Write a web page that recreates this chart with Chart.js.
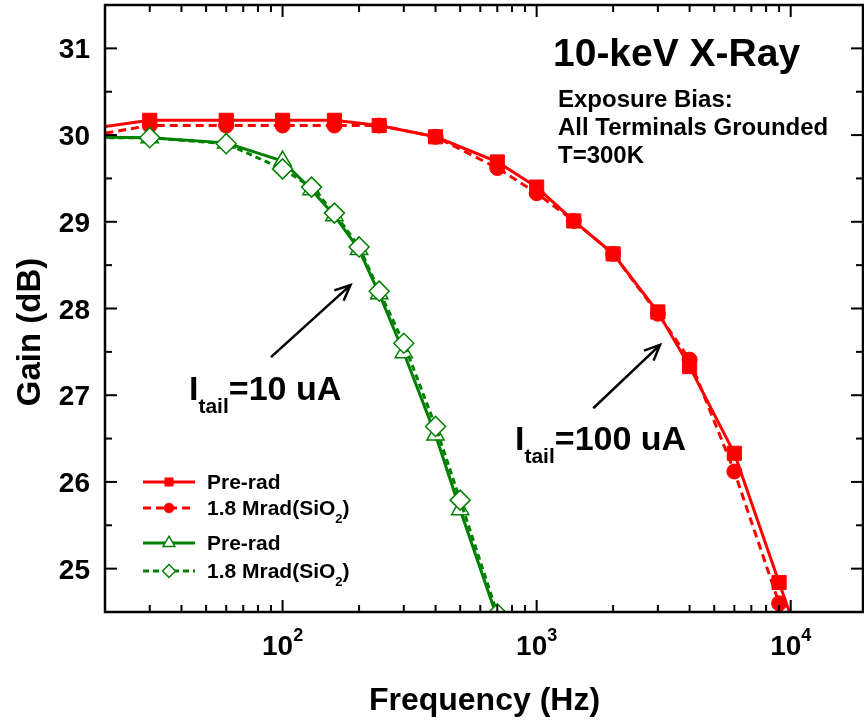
<!DOCTYPE html>
<html>
<head>
<meta charset="utf-8">
<script src="https://cdn.jsdelivr.net/npm/chart.js@4.4.0/dist/chart.umd.min.js"></script>
<style>
html, body { margin: 0; padding: 0; background: #fff; overflow: hidden; }
canvas { display: block; }
</style>
</head>
<body>
<canvas id="myChart" width="864" height="725"></canvas>
<script>
// frequency (Hz) and gain (dB)
const freqRed = [10, 30, 60, 100, 160, 240, 400, 700, 1000, 1400, 2000, 3000, 4000, 6000, 9000, 12000];
const gainRedPre = [29.98, 30.17, 30.17, 30.17, 30.17, 30.11, 29.98, 29.69, 29.40, 29.01, 28.63, 27.96, 27.33, 26.33, 24.84, 23.79];
const gainRedRad = [29.87, 30.11, 30.11, 30.11, 30.11, 30.11, 29.98, 29.62, 29.33, 29.01, 28.63, 27.94, 27.41, 26.12, 24.60, 23.54];

const freqGreen = [10, 30, 60, 100, 130, 160, 200, 240, 300, 400, 500, 700];
const gainGreenPre = [29.98, 29.97, 29.91, 29.70, 29.37, 29.07, 28.68, 28.17, 27.49, 26.54, 25.68, 24.43];
const gainGreenRad = [29.97, 29.97, 29.90, 29.61, 29.40, 29.10, 28.71, 28.20, 27.60, 26.64, 25.79, 24.48];

// axis ticks
const yMajorTicks = [25, 26, 27, 28, 29, 30, 31];
const yMinorTicks = [24.5, 25.5, 26.5, 27.5, 28.5, 29.5, 30.5, 31.5];
const xMajorTicks = [100, 1000, 10000];
const xTickLabels = ["10^{2}", "10^{3}", "10^{4}"];
const xMinorTicks = [30, 40, 50, 60, 70, 80, 90, 200, 300, 400, 500, 600, 700, 800, 900,
                     2000, 3000, 4000, 5000, 6000, 7000, 8000, 9000];

const legendLabels = ["Pre-rad", "1.8 Mrad(SiO_{2})", "Pre-rad", "1.8 Mrad(SiO_{2})"];

const RED = "#ff0000";
const GREEN = "#008000";
const FONT = "'Liberation Sans', Arial, Helvetica, sans-serif";

const pts = (xs, ys) => xs.map((f, i) => ({ x: f, y: ys[i] }));

// text with _{sub} and ^{sup} parts
function richText(ctx, str, x, y, size, align) {
  const parts = [];
  const re = /([_^])\{([^}]*)\}/g;
  let last = 0, m;
  while ((m = re.exec(str)) !== null) {
    if (m.index > last) parts.push({ t: str.slice(last, m.index), k: "" });
    parts.push({ t: m[2], k: m[1] });
    last = re.lastIndex;
  }
  if (last < str.length) parts.push({ t: str.slice(last), k: "" });
  const fontFor = p => "bold " + (p.k ? Math.round(size * 0.63) : size) + "px " + FONT;
  let w = 0;
  parts.forEach(p => { ctx.font = fontFor(p); p.w = ctx.measureText(p.t).width; w += p.w; });
  let cx = align === "center" ? x - w / 2 : align === "right" ? x - w : x;
  ctx.textAlign = "left";
  ctx.textBaseline = "alphabetic";
  parts.forEach(p => {
    ctx.font = fontFor(p);
    const dy = p.k === "_" ? size * 0.38 : p.k === "^" ? -size * 0.5 : 0;
    ctx.fillText(p.t, cx, y + dy);
    cx += p.w;
  });
}

function arrow(ctx, x1, y1, x2, y2) {
  const ang = Math.atan2(y2 - y1, x2 - x1);
  const len = 17, spread = 0.42;
  ctx.beginPath();
  ctx.moveTo(x1, y1);
  ctx.lineTo(x2, y2);
  ctx.moveTo(x2 - len * Math.cos(ang - spread), y2 - len * Math.sin(ang - spread));
  ctx.lineTo(x2, y2);
  ctx.lineTo(x2 - len * Math.cos(ang + spread), y2 - len * Math.sin(ang + spread));
  ctx.stroke();
}

const frame = {
  id: "frame",
  afterDatasetsDraw(chart) {
    const { ctx, chartArea: a, scales: { x, y } } = chart;
    const right = a.right - 1;
    ctx.save();
    ctx.strokeStyle = "#000";
    ctx.fillStyle = "#000";
    ctx.setLineDash([]);
    ctx.lineWidth = 2.5;
    ctx.strokeRect(a.left, a.top, right - a.left, a.bottom - a.top);

    ctx.lineWidth = 2;
    const tick = (x1, y1, x2, y2) => { ctx.beginPath(); ctx.moveTo(x1, y1); ctx.lineTo(x2, y2); ctx.stroke(); };
    yMajorTicks.forEach(v => { const p = y.getPixelForValue(v); tick(a.left, p, a.left + 12, p); tick(right, p, right - 12, p); });
    yMinorTicks.forEach(v => { const p = y.getPixelForValue(v); tick(a.left, p, a.left + 7, p); tick(right, p, right - 7, p); });
    xMajorTicks.forEach(v => { const p = x.getPixelForValue(v); tick(p, a.bottom, p, a.bottom - 12); tick(p, a.top, p, a.top + 12); });
    xMinorTicks.forEach(v => { const p = x.getPixelForValue(v); tick(p, a.bottom, p, a.bottom - 7); tick(p, a.top, p, a.top + 7); });

    // tick labels
    ctx.font = "bold 28px " + FONT;
    ctx.textAlign = "right";
    ctx.textBaseline = "alphabetic";
    yMajorTicks.forEach(v => ctx.fillText(String(v), a.left - 15, y.getPixelForValue(v) + 10));
    xMajorTicks.forEach((v, i) => richText(ctx, xTickLabels[i], x.getPixelForValue(v), a.bottom + 43, 28, "center"));

    // axis titles
    ctx.font = "bold 32px " + FONT;
    ctx.textAlign = "center";
    ctx.fillText("Frequency (Hz)", (a.left + a.right) / 2, 710);
    ctx.save();
    ctx.translate(40, 332);
    ctx.rotate(-Math.PI / 2);
    ctx.font = "bold 33px " + FONT;
    ctx.fillText("Gain (dB)", 0, 0);
    ctx.restore();

    // annotations
    ctx.textAlign = "left";
    ctx.font = "bold 39px " + FONT;
    ctx.fillText("10-keV X-Ray", 553, 66);
    ctx.font = "bold 24px " + FONT;
    ctx.fillText("Exposure Bias:", 558, 107);
    ctx.fillText("All Terminals Grounded", 558, 135);
    ctx.fillText("T=300K", 558, 163);

    richText(ctx, "I_{tail}=10 uA", 189, 400, 34, "left");
    richText(ctx, "I_{tail}=100 uA", 515, 450, 34, "left");

    ctx.lineWidth = 2.5;
    arrow(ctx, x.getPixelForValue(90), y.getPixelForValue(27.44), x.getPixelForValue(185), y.getPixelForValue(28.27));
    arrow(ctx, x.getPixelForValue(1670), y.getPixelForValue(26.85), x.getPixelForValue(3060), y.getPixelForValue(27.58));

    // legend
    const rows = [482, 508, 543, 571];
    const legendRadius = [5.7, 4.8, 6.8, 6.5];
    chart.data.datasets.forEach((ds, i) => {
      const yy = rows[i];
      ctx.strokeStyle = ds.borderColor;
      ctx.lineWidth = ds.borderWidth;
      ctx.setLineDash(ds.borderDash || []);
      ctx.beginPath();
      ctx.moveTo(143, yy);
      ctx.lineTo(195, yy);
      ctx.stroke();
      ctx.setLineDash([]);
      ctx.fillStyle = ds.pointBackgroundColor;
      ctx.strokeStyle = ds.pointBorderColor;
      ctx.lineWidth = ds.pointBorderWidth;
      Chart.helpers.drawPoint(ctx, { pointStyle: ds.pointStyle, radius: legendRadius[i], borderWidth: ds.pointBorderWidth, rotation: 0 }, 169, yy);
      ctx.fillStyle = "#000";
      richText(ctx, legendLabels[i], 207, yy + 7, 21, "left");
    });
    ctx.restore();
  }
};

const ctx = document.getElementById("myChart").getContext("2d");

new Chart(ctx, {
  type: "scatter",
  data: {
    datasets: [
      {
        label: "Pre-rad", data: pts(freqRed, gainRedPre), showLine: true,
        borderColor: RED, borderWidth: 3,
        pointStyle: "rect", pointRadius: 10, pointHoverRadius: 10,
        pointBackgroundColor: RED, pointBorderColor: RED, pointBorderWidth: 1,
        order: 3
      },
      {
        label: "1.8 Mrad(SiO2)", data: pts(freqRed, gainRedRad), showLine: true,
        borderColor: RED, borderWidth: 3, borderDash: [8, 5],
        pointStyle: "circle", pointRadius: 7.5, pointHoverRadius: 7.5,
        pointBackgroundColor: RED, pointBorderColor: RED, pointBorderWidth: 1,
        order: 2
      },
      {
        label: "Pre-rad", data: pts(freqGreen, gainGreenPre), showLine: true,
        borderColor: GREEN, borderWidth: 3,
        pointStyle: "triangle", pointRadius: 10, pointHoverRadius: 10,
        pointBackgroundColor: "#ffffff", pointBorderColor: GREEN, pointBorderWidth: 1.5,
        order: 1
      },
      {
        label: "1.8 Mrad(SiO2)", data: pts(freqGreen, gainGreenRad), showLine: true,
        borderColor: GREEN, borderWidth: 3, borderDash: [6, 4],
        pointStyle: "rectRot", pointRadius: 10, pointHoverRadius: 10,
        pointBackgroundColor: "#ffffff", pointBorderColor: GREEN, pointBorderWidth: 1.5,
        order: 0
      }
    ]
  },
  options: {
    responsive: false,
    animation: false,
    devicePixelRatio: 1,
    events: [],
    layout: { autoPadding: false, padding: { left: 105, top: 5, right: 0, bottom: 113 } },
    scales: {
      x: { type: "logarithmic", min: 20, max: 19430, display: false },
      y: { type: "linear", min: 24.5, max: 31.5, display: false }
    },
    plugins: {
      legend: { display: false },
      tooltip: { enabled: false }
    }
  },
  plugins: [frame]
});
</script>
</body>
</html>
